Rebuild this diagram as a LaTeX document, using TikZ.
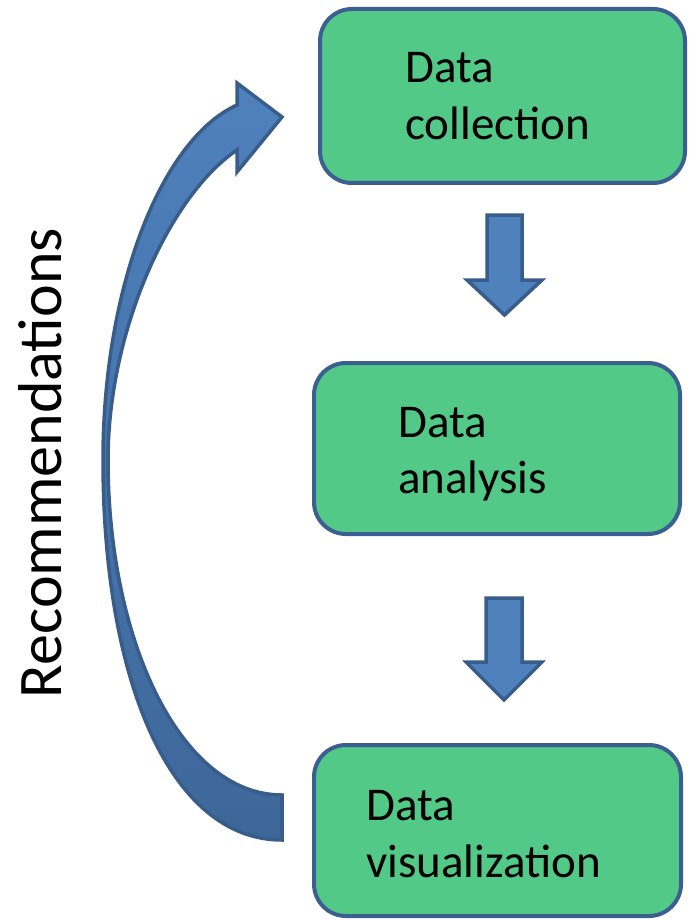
\documentclass[tikz,border=0pt]{standalone}
\usepackage{fontspec}
\setmainfont{Carlito}
\definecolor{boxfill}{RGB}{82,201,135}
\definecolor{boxline}{RGB}{60,95,145}
\definecolor{arrfill}{RGB}{79,129,189}
\definecolor{arrdark}{RGB}{62,103,153}
\definecolor{arrline}{RGB}{56,93,138}
\begin{document}
\begin{tikzpicture}[x=1pt,y=-1pt,
  stepbox/.style={draw=boxline,line width=4pt,fill=boxfill,rounded corners=32pt},
  boxtext/.style={anchor=base west,inner sep=0pt,font=\fontsize{47}{57}\selectfont},
  blockarrow/.style={draw=arrline,line width=3.5pt,fill=arrfill,line join=miter}]
\useasboundingbox (0,0) rectangle (688,920);

% process boxes
\draw[stepbox] (320,9) rectangle (685,183);
\draw[stepbox] (314,363) rectangle (680,534);
\draw[stepbox] (314,745) rectangle (681,916);

\node[boxtext] (t1a) at (405,83) {Data};
\node[boxtext] (t1b) at (405,140) {collection};
\node[boxtext] (t2a) at (398,437) {Data};
\node[boxtext] (t2b) at (398,493) {analysis};
\node[boxtext] (t3a) at (366,820) {Data};
\node[boxtext] (t3b) at (366,877) {visualization};

% downward block arrows
\draw[blockarrow] (487,215) -- (522,215) -- (522,280) -- (542,280) -- (504.5,315)
  -- (467,280) -- (487,280) -- cycle;
\draw[blockarrow] (486,598) -- (522,598) -- (522,662) -- (542,662) -- (504,700)
  -- (466,662) -- (486,662) -- cycle;

% curved feedback arrow
\draw[draw=arrline,line width=3.5pt,line join=miter,top color=arrfill,bottom color=arrdark]
  (237,105) -- (237,83) -- (282,117) -- (237,172) -- (237,150)
  .. controls (170,195) and (108,330) .. (108,460)
  .. controls (108,640) and (180,795) .. (282,795)
  -- (282,840)
  .. controls (170,840) and (103,680) .. (103,460)
  .. controls (103,290) and (160,140) .. cycle;

\node[rotate=90,anchor=base,inner sep=0pt,font=\fontsize{62}{70}\selectfont]
  (rec) at (61,463) {Recommendations};
\end{tikzpicture}
\end{document}
